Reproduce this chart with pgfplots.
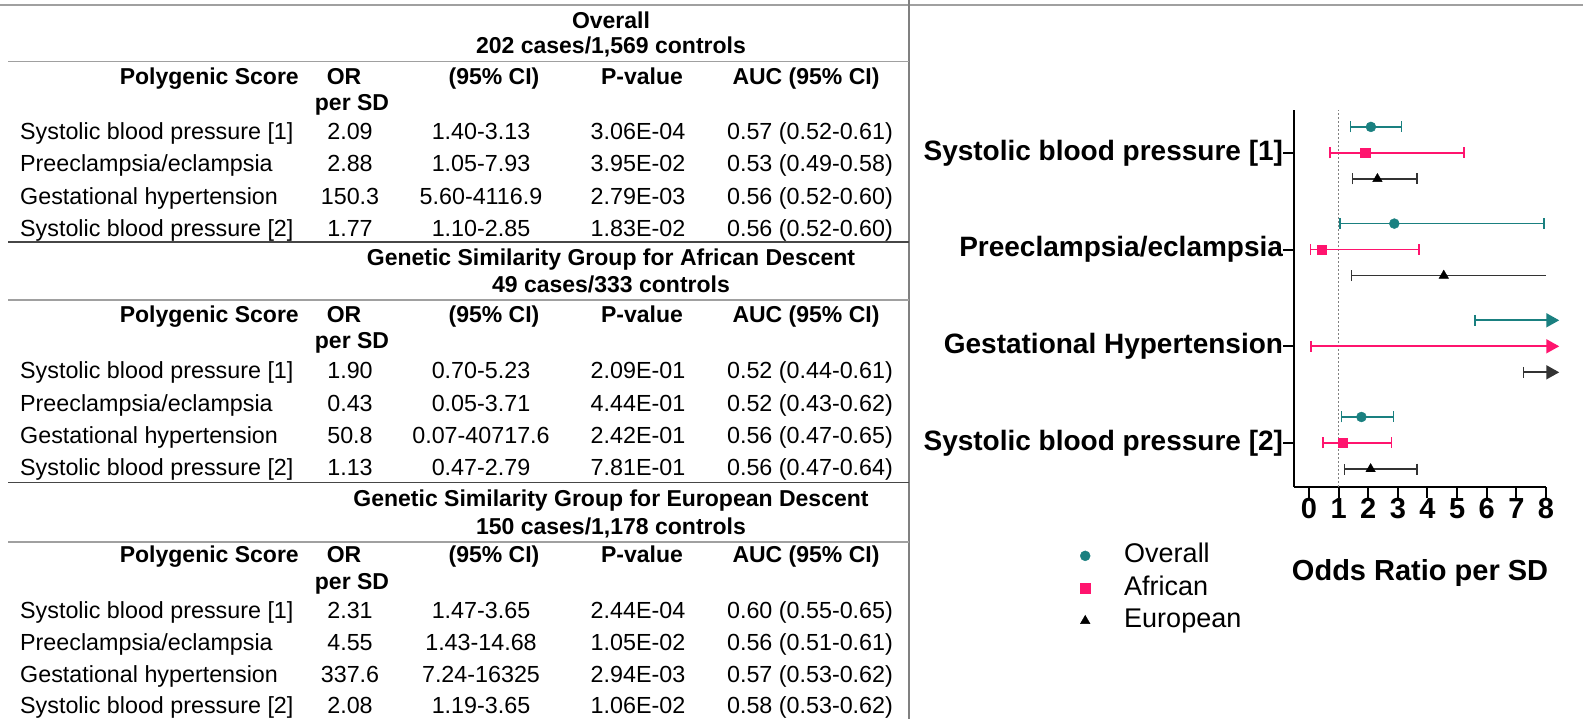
\documentclass[border=0pt]{standalone}
\usepackage{fontspec}
\setmainfont{Liberation Sans}
\usepackage{pgfplots}
\pgfplotsset{compat=1.18}
\usepackage{pgfplotstable}
\usetikzlibrary{arrows.meta}

\definecolor{ovc}{RGB}{26,128,128}
\definecolor{afc}{RGB}{255,20,110}
\definecolor{euc}{RGB}{0,0,0}
\definecolor{linegray}{RGB}{160,160,160}
\definecolor{linedark}{RGB}{70,70,70}

\newcommand\rg{\fontsize{23.3bp}{28bp}\selectfont}
\newcommand\bd{\fontsize{23bp}{27bp}\selectfont\bfseries}

% table helpers (y measured downward in px)
\newcommand\Rw[6]{%
  \node[anchor=base west] at (20,{#1+8.4}) {\rg #2};
  \node[anchor=base] at (350,{#1+8.4}) {\rg #3};
  \node[anchor=base] at (481,{#1+8.4}) {\rg #4};
  \node[anchor=base] at (638,{#1+8.4}) {\rg #5};
  \node[anchor=base] at (810,{#1+8.4}) {\rg #6};}
\newcommand\Hd[2]{%
  \node[anchor=base east] at (299,{#1+8.2}) {\bd Polygenic Score};
  \node[anchor=base] at (344,{#1+8.2}) {\bd OR};
  \node[anchor=base] at (494,{#1+8.2}) {\bd (95\% CI)};
  \node[anchor=base] at (642,{#1+8.2}) {\bd P-value};
  \node[anchor=base] at (806,{#1+8.2}) {\bd AUC (95\% CI)};
  \node[anchor=base] at (352,{#2+8.2}) {\bd per SD};}

\pgfplotstableread{
x y lo hi
2.09 4.269 1.40 3.13
2.88 3.269 1.05 7.93
1.77 1.269 1.10 2.85
}\tOverall
\pgfplotstableread{
x y lo hi
1.90 4 0.70 5.23
0.43 3 0.05 3.71
1.13 1 0.47 2.79
}\tAfrican
\pgfplotstableread{
x y lo hi
2.31 3.731 1.47 3.65
2.08 0.731 1.19 3.65
}\tEuropean

\pgfplotsset{
  eb/.style={
    error bars/x dir=both, error bars/x explicit,
    error bars/error mark=|,
    error bars/error bar style={#1, line width=1.5bp},
    error bars/error mark options={#1, line width=1.5bp, mark size=5.5bp}},
}

\begin{document}
\begin{tikzpicture}[x=1bp,y=1bp]
\useasboundingbox (0,0) rectangle (1583,719);

\begin{scope}[yshift=719bp, yscale=-1, every node/.style={inner sep=0pt}]
  % frame lines
  \draw[linegray, line width=1.5bp] (0,5) -- (1583,5);
  \draw[gray, line width=1.5bp] (909,0) -- (909,719);
  % block 1
  \node[anchor=base] at (611,{20+8.2}) {\bd Overall};
  \node[anchor=base] at (611,{45.5+8.2}) {\bd 202 cases/1,569 controls};
  \draw[linegray, line width=1.8bp] (8,61.5) -- (909,61.5);
  \Hd{76}{102}
  \Rw{131}{Systolic blood pressure [1]}{2.09}{1.40-3.13}{3.06E-04}{0.57 (0.52-0.61)}
  \Rw{163.5}{Preeclampsia/eclampsia}{2.88}{1.05-7.93}{3.95E-02}{0.53 (0.49-0.58)}
  \Rw{196}{Gestational hypertension}{150.3}{5.60-4116.9}{2.79E-03}{0.56 (0.52-0.60)}
  \Rw{228}{Systolic blood pressure [2]}{1.77}{1.10-2.85}{1.83E-02}{0.56 (0.52-0.60)}
  \draw[linedark, line width=1.5bp] (8,242) -- (909,242);
  % block 2
  \node[anchor=base] at (611,{257.5+8.2}) {\bd Genetic Similarity Group for African Descent};
  \node[anchor=base] at (611,{284+8.2}) {\bd 49 cases/333 controls};
  \draw[linegray, line width=1.8bp] (8,300) -- (909,300);
  \Hd{314}{340}
  \Rw{370.5}{Systolic blood pressure [1]}{1.90}{0.70-5.23}{2.09E-01}{0.52 (0.44-0.61)}
  \Rw{403}{Preeclampsia/eclampsia}{0.43}{0.05-3.71}{4.44E-01}{0.52 (0.43-0.62)}
  \Rw{435}{Gestational hypertension}{50.8}{0.07-40717.6}{2.42E-01}{0.56 (0.47-0.65)}
  \Rw{467.5}{Systolic blood pressure [2]}{1.13}{0.47-2.79}{7.81E-01}{0.56 (0.47-0.64)}
  \draw[linedark, line width=1.5bp] (8,482.5) -- (909,482.5);
  % block 3
  \node[anchor=base] at (611,{498+8.2}) {\bd Genetic Similarity Group for European Descent};
  \node[anchor=base] at (611,{526+8.2}) {\bd 150 cases/1,178 controls};
  \draw[linegray, line width=1.8bp] (8,542) -- (909,542);
  \Hd{554}{581.5}
  \Rw{610}{Systolic blood pressure [1]}{2.31}{1.47-3.65}{2.44E-04}{0.60 (0.55-0.65)}
  \Rw{642}{Preeclampsia/eclampsia}{4.55}{1.43-14.68}{1.05E-02}{0.56 (0.51-0.61)}
  \Rw{674.5}{Gestational hypertension}{337.6}{7.24-16325}{2.94E-03}{0.57 (0.53-0.62)}
  \Rw{705}{Systolic blood pressure [2]}{2.08}{1.19-3.65}{1.06E-02}{0.58 (0.53-0.62)}
\end{scope}

\begin{axis}[
  at={(1294.2bp,232bp)}, anchor=south west,
  scale only axis, width=251.7bp, height=377bp,
  xmin=-0.5, xmax=8, ymin=0.545, ymax=4.444,
  axis x line*=bottom, axis y line*=left,
  axis line style={line width=2bp, black},
  clip=false,
  xtick={0,1,2,3,4,5,6,7,8},
  ytick={1,2,3,4},
  yticklabels={Systolic blood pressure [2], Gestational Hypertension, Preeclampsia/eclampsia, Systolic blood pressure [1]},
  tick style={line width=2bp, black},
  major tick length=11bp, tick align=outside,
  /pgf/number format/assume math mode=true,
  xticklabel style={font=\fontsize{29bp}{30bp}\selectfont\bfseries, inner sep=0pt},
  yticklabel style={font=\fontsize{28bp}{30bp}\selectfont\bfseries, inner sep=0pt},
  xlabel={Odds Ratio per SD},
  xlabel style={font=\fontsize{29bp}{32bp}\selectfont\bfseries, at={(axis description cs:0.5,-0.2477)}, anchor=base},
  legend style={at={(axis description cs:-0.851,-0.1476)}, anchor=north west,
    draw=none, fill=none, inner sep=0pt, row sep=6.5bp,
    font=\fontsize{27bp}{30bp}\selectfont,
    nodes={inner sep=0pt, text height=20bp, text depth=6bp},
    /tikz/every odd column/.append style={column sep=34bp}},
  legend cell align=left,
  legend image code/.code={\draw[#1] plot coordinates {(0bp,0bp)};},
]
% reference line at OR = 1
\addplot[gray, line width=0.8bp, dash pattern=on 2bp off 2bp, forget plot] coordinates {(1,0.545) (1,4.444)};

\addplot[ovc, only marks, mark=*, mark size=5bp, mark options={fill=ovc, draw=ovc}, eb=ovc]
  table[x=x, y=y, x error plus expr=\thisrow{hi}-\thisrow{x}, x error minus expr=\thisrow{x}-\thisrow{lo}] {\tOverall};
\addlegendentry{Overall}
\addplot[afc, only marks, mark=square*, mark size=4.7bp, mark options={fill=afc, draw=afc}, eb=afc]
  table[x=x, y=y, x error plus expr=\thisrow{hi}-\thisrow{x}, x error minus expr=\thisrow{x}-\thisrow{lo}] {\tAfrican};
\addlegendentry{African}
\addplot[euc, only marks, mark=triangle*, mark size=5.5bp, mark options={fill=euc, draw=euc}, eb={black!80}]
  table[x=x, y=y, x error plus expr=\thisrow{hi}-\thisrow{x}, x error minus expr=\thisrow{x}-\thisrow{lo}] {\tEuropean};
\addlegendentry{European}

% European preeclampsia: upper limit beyond the axis
\addplot[black!80, line width=1.5bp, forget plot] coordinates {(4.55,2.731) (8,2.731)};
\addplot[euc, only marks, mark=triangle*, mark size=5.5bp, mark options={fill=euc, draw=euc}, forget plot,
  error bars/x dir=minus, error bars/x explicit, error bars/error mark=|,
  error bars/error bar style={black!80, line width=1.5bp},
  error bars/error mark options={black!80, line width=1.5bp, mark size=5.5bp}]
  coordinates {(4.55,2.731) -= (3.12,0)};

% gestational hypertension: intervals running off the scale
\addplot[ovc, line width=1.8bp, -{Triangle[length=13bp,width=14bp]}, forget plot] coordinates {(5.60,2.269) (8.45,2.269)};
\addplot[ovc, only marks, mark=|, mark size=5.5bp, mark options={line width=1.5bp}, forget plot] coordinates {(5.60,2.269)};
\addplot[afc, line width=1.8bp, -{Triangle[length=13bp,width=14bp]}, forget plot] coordinates {(0.07,2) (8.45,2)};
\addplot[afc, only marks, mark=|, mark size=5.5bp, mark options={line width=1.5bp}, forget plot] coordinates {(0.07,2)};
\addplot[black!80, line width=1.8bp, -{Triangle[length=13bp,width=14bp]}, forget plot] coordinates {(7.24,1.731) (8.45,1.731)};
\addplot[black!80, only marks, mark=|, mark size=5.5bp, mark options={line width=1.5bp}, forget plot] coordinates {(7.24,1.731)};
\end{axis}
\end{tikzpicture}
\end{document}
